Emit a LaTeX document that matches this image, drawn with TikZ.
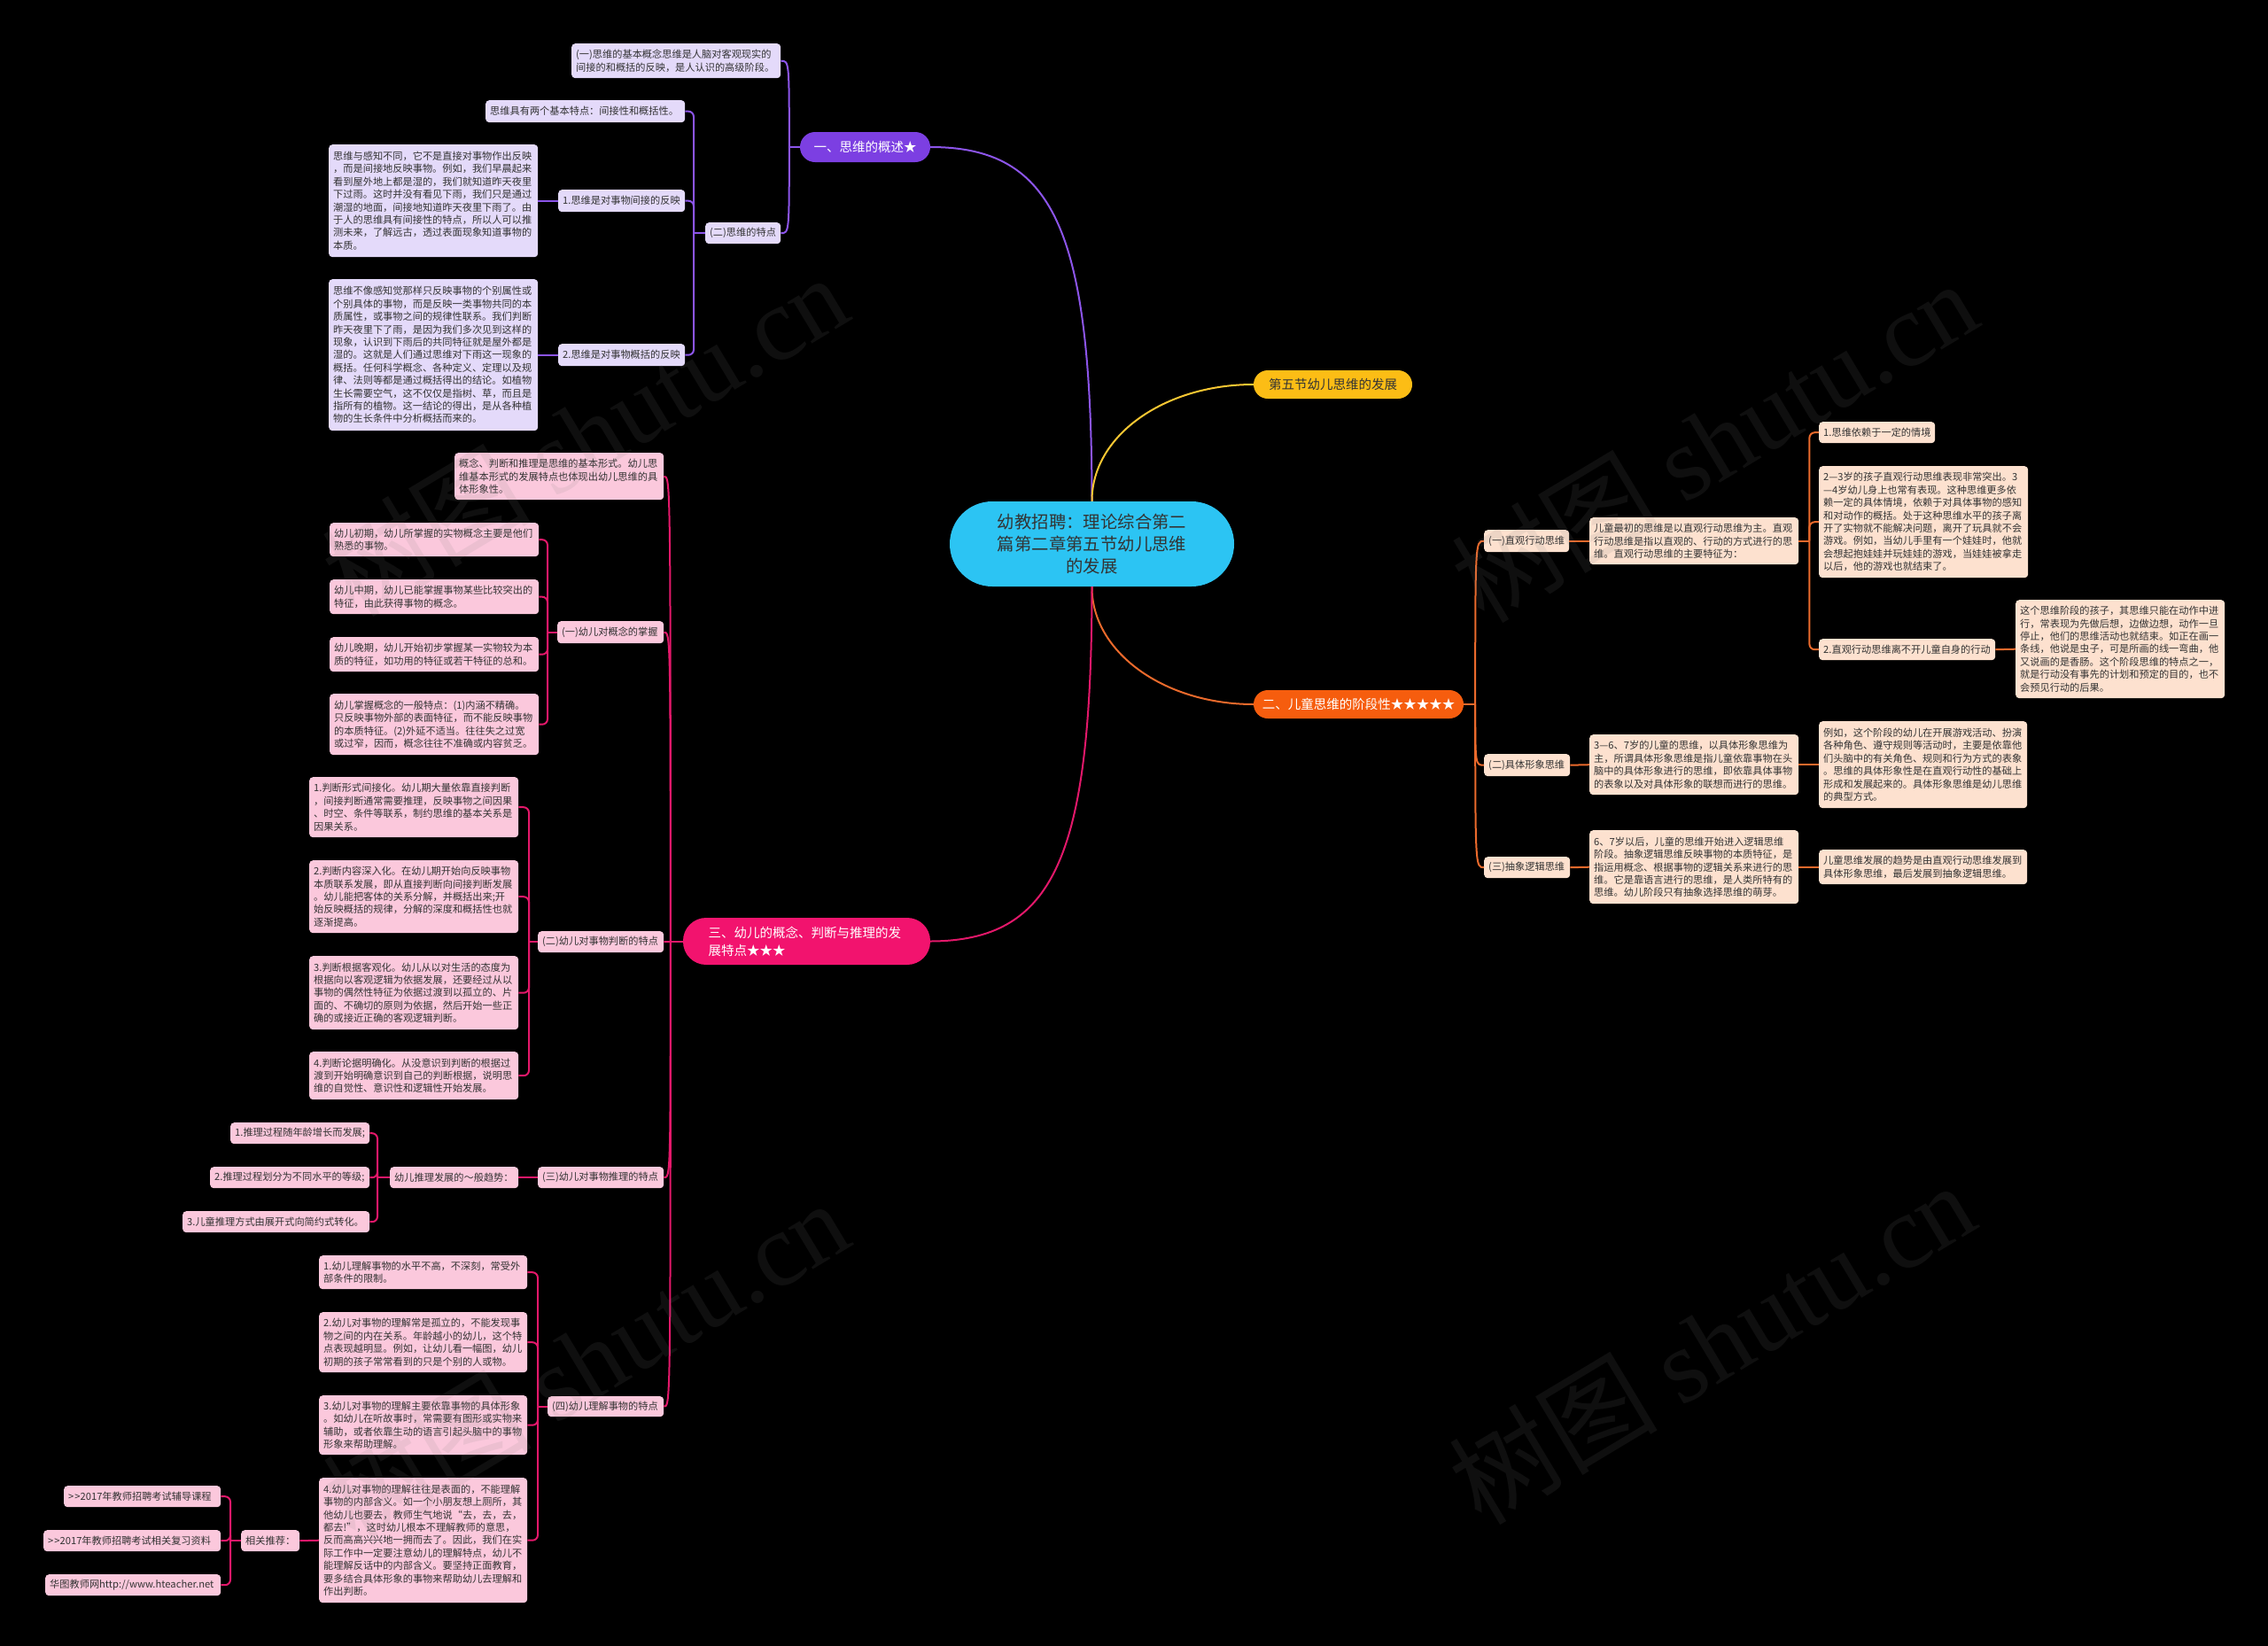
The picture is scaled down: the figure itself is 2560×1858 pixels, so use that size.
\documentclass[tikz,border=0pt]{standalone}
\usepackage{fontspec}
\setmainfont{Noto Sans CJK SC}
\newfontfamily\wmfont{Liberation Serif}
\definecolor{pmain}{HTML}{7C3FE2}
\definecolor{pline}{HTML}{8C55EA}
\definecolor{pfill}{HTML}{E4DAFA}
\definecolor{kmain}{HTML}{F2136E}
\definecolor{kline}{HTML}{E3186A}
\definecolor{kfill}{HTML}{FBC8DC}
\definecolor{omain}{HTML}{F65D0E}
\definecolor{oline}{HTML}{EB6A2C}
\definecolor{ofill}{HTML}{FDE1CF}
\definecolor{ymain}{HTML}{FCBD15}
\definecolor{yline}{HTML}{F8C733}
\definecolor{rootc}{HTML}{2CC4F3}
\definecolor{txt}{HTML}{333333}
\tikzset{
  boxbase/.style={rounded corners=4pt, inner xsep=5pt, inner ysep=0pt, align=left,
    text=txt, font=\fontsize{11.2}{14.4}\selectfont, anchor=north west},
  pbox/.style={boxbase, fill=pfill},
  kbox/.style={boxbase, fill=kfill},
  obox/.style={boxbase, fill=ofill},
  mainnode/.style={inner sep=0pt, font=\fontsize{14.5}{20}\selectfont, align=center},
  pl/.style={draw=pline, line width=2pt},
  kl/.style={draw=kline, line width=2pt},
  ol/.style={draw=oline, line width=2pt},
  yl/.style={draw=yline, line width=2pt},
  rc/.style={rounded corners=6pt},
  wm/.style={text=gray, text opacity=0.12, rotate=31, inner sep=0pt,
    font=\fontsize{118}{118}\selectfont},
}
\newcommand\bxnode[7]{%
  \pgfmathsetmacro\bxW{#5-#3}%
  \pgfmathsetmacro\bxH{#6-#4}%
  \pgfmathsetmacro\bxT{#5-#3-10}%
  \node[#1, minimum width=\bxW pt, minimum height=\bxH pt, text width=\bxT pt] (#2) at (#3,#4) {#7};}
\begin{document}
\begin{tikzpicture}[x=1pt,y=-1pt]
\fill[black] (0,0) rectangle (2560,1858);
\useasboundingbox (0,0) rectangle (2560,1858);

% ---------- main nodes ----------
\node[fill=rootc, text=txt, minimum width=321pt, minimum height=96pt, rounded corners=48pt,
  align=center, inner sep=0pt, font=\fontsize{19.4}{25}\selectfont] (root) at (1232.5,614)
  {幼教招聘：理论综合第二\\篇第二章第五节幼儿思维\\的发展};
\node[mainnode, fill=pmain, text=white, minimum width=147pt, minimum height=34pt, rounded corners=17pt] (pm) at (976.5,166) {一、思维的概述★};
\node[mainnode, fill=ymain, text=txt, minimum width=179pt, minimum height=32pt, rounded corners=16pt] (ym) at (1504.5,434) {第五节幼儿思维的发展};
\node[mainnode, fill=omain, text=white, minimum width=237pt, minimum height=32pt, rounded corners=16pt] (om) at (1533.5,795) {二、儿童思维的阶段性★★★★★};
\node[mainnode, fill=kmain, text=white, minimum width=279pt, minimum height=53pt, rounded corners=26pt, text width=222pt, align=left] (km) at (910.5,1062.5) {三、幼儿的概念、判断与推理的发\\展特点★★★};

% ---------- purple subtree ----------
\bxnode{pbox}{pA1}{645}{49}{881}{88}{(一)思维的基本概念思维是人脑对客观现实的\\间接的和概括的反映，是人认识的高级阶段。}
\bxnode{pbox}{pT}{796}{251}{881}{275}{(二)思维的特点}
\bxnode{pbox}{pA2}{548}{113}{773}{138}{思维具有两个基本特点：间接性和概括性。}
\bxnode{pbox}{pB1}{630}{214}{773}{239}{1.思维是对事物间接的反映}
\bxnode{pbox}{pB2}{630}{388}{773}{413}{2.思维是对事物概括的反映}
\bxnode{pbox}{pA3}{371}{163}{607}{290}{思维与感知不同，它不是直接对事物作出反映\\，而是间接地反映事物。例如，我们早晨起来\\看到屋外地上都是湿的，我们就知道昨天夜里\\下过雨。这时并没有看见下雨，我们只是通过\\潮湿的地面，间接地知道昨天夜里下雨了。由\\于人的思维具有间接性的特点，所以人可以推\\测未来，了解远古，透过表面现象知道事物的\\本质。}
\bxnode{pbox}{pA4}{371}{315}{607}{486}{思维不像感知觉那样只反映事物的个别属性或\\个别具体的事物，而是反映一类事物共同的本\\质属性，或事物之间的规律性联系。我们判断\\昨天夜里下了雨，是因为我们多次见到这样的\\现象，认识到下雨后的共同特征就是屋外都是\\湿的。这就是人们通过思维对下雨这一现象的\\概括。任何科学概念、各种定义、定理以及规\\律、法则等都是通过概括得出的结论。如植物\\生长需要空气，这不仅仅是指树、草，而且是\\指所有的植物。这一结论的得出，是从各种植\\物的生长条件中分析概括而来的。}

% ---------- pink subtree ----------
\bxnode{kbox}{kP0}{513}{511}{749}{564}{概念、判断和推理是思维的基本形式。幼儿思\\维基本形式的发展特点也体现出幼儿思维的具\\体形象性。}
\bxnode{kbox}{kT1}{629}{701}{749}{726}{(一)幼儿对概念的掌握}
\bxnode{kbox}{kC1}{372}{590}{608}{628}{幼儿初期，幼儿所掌握的实物概念主要是他们\\熟悉的事物。}
\bxnode{kbox}{kC2}{372}{654}{608}{693}{幼儿中期，幼儿已能掌握事物某些比较突出的\\特征，由此获得事物的概念。}
\bxnode{kbox}{kC3}{372}{719}{608}{758}{幼儿晚期，幼儿开始初步掌握某一实物较为本\\质的特征，如功用的特征或若干特征的总和。}
\bxnode{kbox}{kC4}{372}{783}{608}{852}{幼儿掌握概念的一般特点：(1)内涵不精确。\\只反映事物外部的表面特征，而不能反映事物\\的本质特征。(2)外延不适当。往往失之过宽\\或过窄，因而，概念往往不准确或内容贫乏。}
\bxnode{kbox}{kT2}{607}{1051}{749}{1075}{(二)幼儿对事物判断的特点}
\bxnode{kbox}{kD1}{349}{877}{585}{945}{1.判断形式间接化。幼儿期大量依靠直接判断\\，间接判断通常需要推理，反映事物之间因果\\、时空、条件等联系，制约思维的基本关系是\\因果关系。}
\bxnode{kbox}{kD2}{349}{971}{585}{1053}{2.判断内容深入化。在幼儿期开始向反映事物\\本质联系发展，即从直接判断向间接判断发展\\。幼儿能把客体的关系分解，并概括出来;开\\始反映概括的规律，分解的深度和概括性也就\\逐渐提高。}
\bxnode{kbox}{kD3}{349}{1079}{585}{1162}{3.判断根据客观化。幼儿从以对生活的态度为\\根据向以客观逻辑为依据发展，还要经过从以\\事物的偶然性特征为依据过渡到以孤立的、片\\面的、不确切的原则为依据，然后开始一些正\\确的或接近正确的客观逻辑判断。}
\bxnode{kbox}{kD4}{349}{1187}{585}{1241}{4.判断论据明确化。从没意识到判断的根据过\\渡到开始明确意识到自己的判断根据，说明思\\维的自觉性、意识性和逻辑性开始发展。}
\bxnode{kbox}{kT3}{607}{1317}{749}{1341}{(三)幼儿对事物推理的特点}
\bxnode{kbox}{kE0}{440}{1317}{585}{1341}{幼儿推理发展的～般趋势：}
\bxnode{kbox}{kE1}{260}{1267}{417}{1291}{1.推理过程随年龄增长而发展;}
\bxnode{kbox}{kE2}{237}{1317}{417}{1341}{2.推理过程划分为不同水平的等级;}
\bxnode{kbox}{kE3}{206}{1367}{417}{1391}{3.儿童推理方式由展开式向简约式转化。}
\bxnode{kbox}{kT4}{618}{1576}{749}{1599}{(四)幼儿理解事物的特点}
\bxnode{kbox}{kF1}{360}{1417}{595}{1455}{1.幼儿理解事物的水平不高，不深刻，常受外\\部条件的限制。}
\bxnode{kbox}{kF2}{360}{1481}{595}{1549}{2.幼儿对事物的理解常是孤立的，不能发现事\\物之间的内在关系。年龄越小的幼儿，这个特\\点表现越明显。例如，让幼儿看一幅图，幼儿\\初期的孩子常常看到的只是个别的人或物。}
\bxnode{kbox}{kF3}{360}{1575}{595}{1642}{3.幼儿对事物的理解主要依靠事物的具体形象\\。如幼儿在听故事时，常需要有图形或实物来\\辅助，或者依靠生动的语言引起头脑中的事物\\形象来帮助理解。}
\bxnode{kbox}{kF4}{360}{1668}{595}{1809}{4.幼儿对事物的理解往往是表面的，不能理解\\事物的内部含义。如一个小朋友想上厕所，其\\他幼儿也要去，教师生气地说“去，去，去，\\都去!”，这时幼儿根本不理解教师的意思，\\反而高高兴兴地一拥而去了。因此，我们在实\\际工作中一定要注意幼儿的理解特点，幼儿不\\能理解反话中的内部含义。要坚持正面教育，\\要多结合具体形象的事物来帮助幼儿去理解和\\作出判断。}
\bxnode{kbox}{kR}{272}{1727}{338}{1751}{相关推荐：}
\bxnode{kbox}{kG1}{72}{1677}{249}{1701}{>\kern1pt>2017年教师招聘考试辅导课程}
\bxnode{kbox}{kG2}{49}{1727}{249}{1751}{>\kern1pt>2017年教师招聘考试相关复习资料}
\bxnode{kbox}{kG3}{51}{1777}{249}{1801}{华图教师网http://www.hteacher.net}

% ---------- orange subtree ----------
\bxnode{obox}{oT1}{1675}{598}{1771}{623}{(一)直观行动思维}
\bxnode{obox}{oH1}{1794}{584}{2030}{637}{儿童最初的思维是以直观行动思维为主。直观\\行动思维是指以直观的、行动的方式进行的思\\维。直观行动思维的主要特征为：}
\bxnode{obox}{oI1}{2053}{476}{2184}{500}{1.思维依赖于一定的情境}
\bxnode{obox}{oI2}{2053}{526}{2289}{652}{2—3岁的孩子直观行动思维表现非常突出。3\\—4岁幼儿身上也常有表现。这种思维更多依\\赖一定的具体情境，依赖于对具体事物的感知\\和对动作的概括。处于这种思维水平的孩子离\\开了实物就不能解决问题，离开了玩具就不会\\游戏。例如，当幼儿手里有一个娃娃时，他就\\会想起抱娃娃并玩娃娃的游戏，当娃娃被拿走\\以后，他的游戏也就结束了。}
\bxnode{obox}{oI3}{2053}{721}{2252}{745}{2.直观行动思维离不开儿童自身的行动}
\bxnode{obox}{oJ}{2275}{677}{2511}{788}{这个思维阶段的孩子，其思维只能在动作中进\\行，常表现为先做后想，边做边想，动作一旦\\停止，他们的思维活动也就结束。如正在画一\\条线，他说是虫子，可是所画的线一弯曲，他\\又说画的是香肠。这个阶段思维的特点之一，\\就是行动没有事先的计划和预定的目的，也不\\会预见行动的后果。}
\bxnode{obox}{oT2}{1675}{851}{1772}{876}{(二)具体形象思维}
\bxnode{obox}{oK1}{1794}{829}{2030}{897}{3—6、7岁的儿童的思维，以具体形象思维为\\主，所谓具体形象思维是指儿童依靠事物在头\\脑中的具体形象进行的思维，即依靠具体事物\\的表象以及对具体形象的联想而进行的思维。}
\bxnode{obox}{oK2}{2053}{814}{2288}{912}{例如，这个阶段的幼儿在开展游戏活动、扮演\\各种角色、遵守规则等活动时，主要是依靠他\\们头脑中的有关角色、规则和行为方式的表象\\。思维的具体形象性是在直观行动性的基础上\\形成和发展起来的。具体形象思维是幼儿思维\\的典型方式。}
\bxnode{obox}{oT3}{1675}{967}{1772}{991}{(三)抽象逻辑思维}
\bxnode{obox}{oL1}{1794}{937}{2030}{1020}{6、7岁以后，儿童的思维开始进入逻辑思维\\阶段。抽象逻辑思维反映事物的本质特征，是\\指运用概念、根据事物的逻辑关系来进行的思\\维。它是靠语言进行的思维，是人类所特有的\\思维。幼儿阶段只有抽象选择思维的萌芽。}
\bxnode{obox}{oL2}{2053}{959}{2288}{998}{儿童思维发展的趋势是由直观行动思维发展到\\具体形象思维，最后发展到抽象逻辑思维。}

% ---------- root connectors ----------
\draw[pl] (root.north) .. controls (1232,260) and (1190,166) .. (pm.east);
\draw[yl] (root.north) .. controls (1232,492) and (1314,434) .. (ym.west);
\draw[ol] (root.south) .. controls (1232,736) and (1314,795) .. (om.west);
\draw[kl] (root.south) .. controls (1232,968) and (1190,1062) .. (km.east);

% ---------- purple connectors ----------
\draw[pl] (pm.west) -- ++(-12,0) coordinate (jp);
\foreach \c in {pA1,pT} \draw[pl] (jp) .. controls (jp |- \c.east) .. (\c.east);
\draw[pl] (pT.west) -- ++(-13,0) coordinate (jpt);
\foreach \c in {pA2,pB1,pB2} \draw[pl,rc] (jpt) |- (\c.east);
\draw[pl] (pB1.west) -- (pA3.east);
\draw[pl] (pB2.west) -- (pA4.east);

% ---------- pink connectors ----------
\draw[kl] (km.west) -- ++(-14,0) coordinate (jk);
\foreach \c in {kP0,kT1,kT2,kT3,kT4} \draw[kl] (jk) .. controls (jk |- \c.east) .. (\c.east);
\draw[kl] (kT1.west) -- ++(-11,0) coordinate (jk1);
\foreach \c in {kC1,kC2,kC3,kC4} \draw[kl,rc] (jk1) |- (\c.east);
\draw[kl] (kT2.west) -- ++(-10,0) coordinate (jk2);
\foreach \c in {kD1,kD2,kD3,kD4} \draw[kl,rc] (jk2) |- (\c.east);
\draw[kl] (kT3.west) -- (kE0.east);
\draw[kl] (kE0.west) -- ++(-14,0) coordinate (jk3);
\foreach \c in {kE1,kE2,kE3} \draw[kl,rc] (jk3) |- (\c.east);
\draw[kl] (kT4.west) -- ++(-11,0) coordinate (jk4);
\foreach \c in {kF1,kF2,kF3,kF4} \draw[kl,rc] (jk4) |- (\c.east);
\draw[kl] (kF4.west) -- (kR.east);
\draw[kl] (kR.west) -- ++(-12,0) coordinate (jk5);
\foreach \c in {kG1,kG2,kG3} \draw[kl,rc] (jk5) |- (\c.east);

% ---------- orange connectors ----------
\draw[ol] (om.east) -- ++(13,0) coordinate (jo);
\foreach \c in {oT1,oT2,oT3} \draw[ol] (jo) .. controls (jo |- \c.west) .. (\c.west);
\draw[ol] (oT1.east) -- (oH1.west);
\draw[ol] (oH1.east) -- ++(12,0) coordinate (jo1);
\foreach \c in {oI1,oI2,oI3} \draw[ol,rc] (jo1) |- (\c.west);
\draw[ol] (oI3.east) -- (oJ.west);
\draw[ol] (oT2.east) -- (oK1.west);
\draw[ol] (oK1.east) -- (oK2.west);
\draw[ol] (oT3.east) -- (oL1.west);
\draw[ol] (oL1.east) -- (oL2.west);

% ---------- watermarks ----------
\node[wm] (wm1) at (660,490) {树图 {\wmfont shutu.cn}};
\node[wm] (wm2) at (1935,497) {树图 {\wmfont shutu.cn}};
\node[wm] (wm3) at (661,1535) {树图 {\wmfont shutu.cn}};
\node[wm] (wm4) at (1932,1515) {树图 {\wmfont shutu.cn}};
\end{tikzpicture}
\end{document}
